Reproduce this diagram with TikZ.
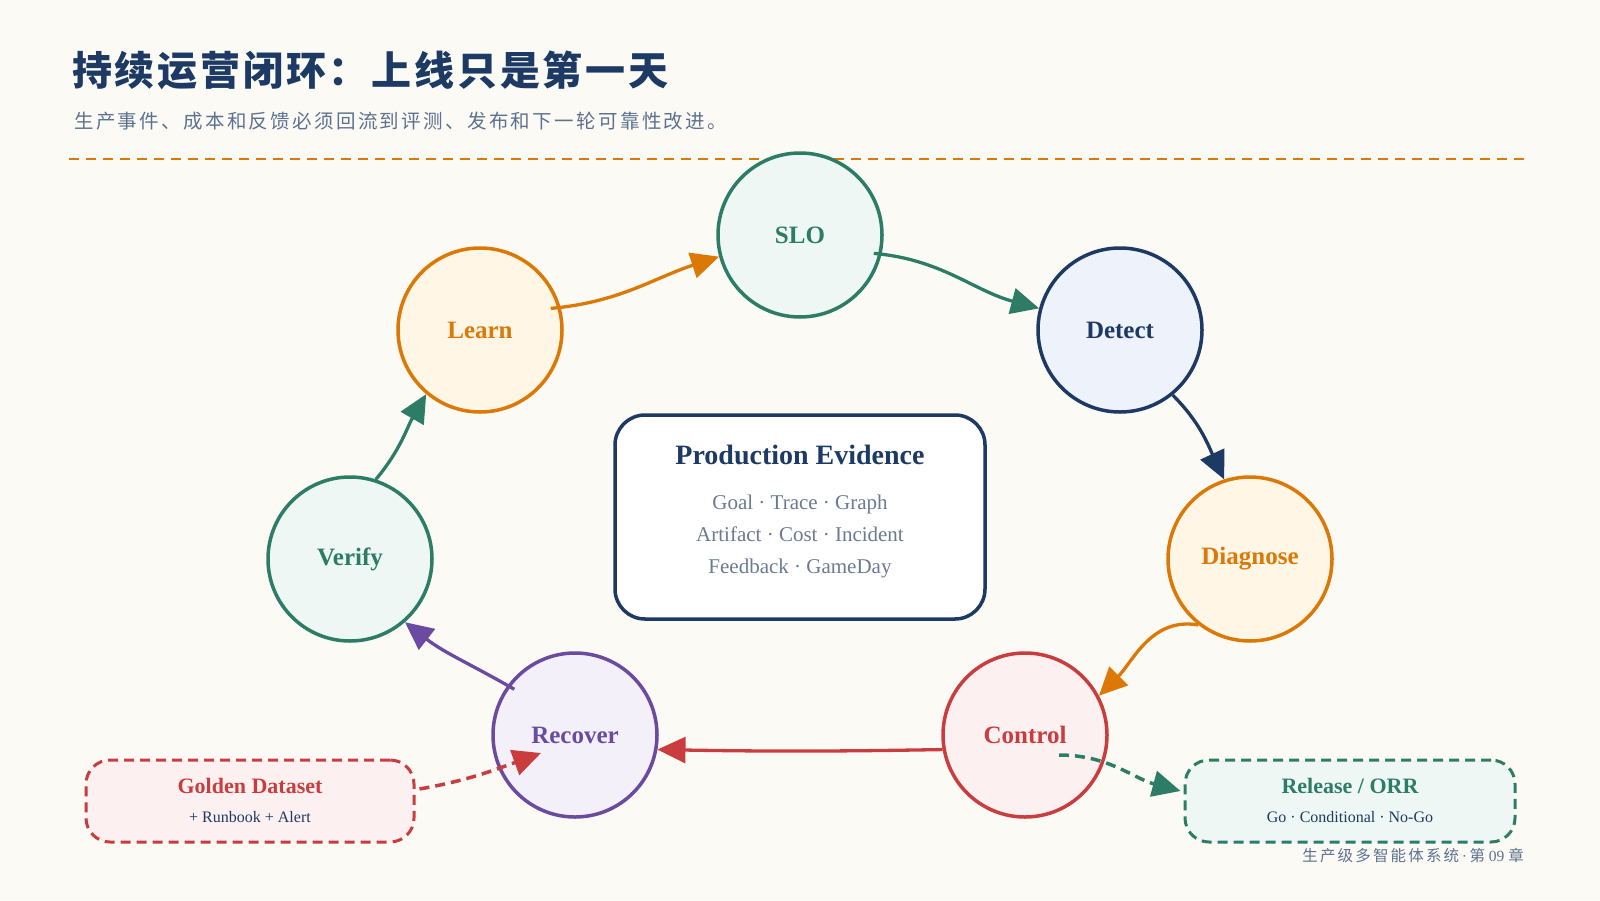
\documentclass[tikz,border=0pt]{standalone}
\usepackage{fontspec}
\setmainfont{Liberation Serif}
\newfontfamily\cjk{Noto Sans CJK SC}
\usetikzlibrary{arrows.meta,calc}
\definecolor{bg}{HTML}{FCFAF5}
\definecolor{cnavy}{HTML}{1C3A63}
\definecolor{fnavy}{HTML}{EEF3FB}
\definecolor{cgreen}{HTML}{2D7D66}
\definecolor{fgreen}{HTML}{EEF7F3}
\definecolor{corange}{HTML}{DB7806}
\definecolor{forange}{HTML}{FFF6E6}
\definecolor{cred}{HTML}{C93D3F}
\definecolor{fred}{HTML}{FDF0F0}
\definecolor{cpurple}{HTML}{6A4BA0}
\definecolor{fpurple}{HTML}{F3F0FA}
\definecolor{csub}{HTML}{5E7290}
\definecolor{cgray}{HTML}{6B7A92}
\tikzset{
  stage/.style={circle, minimum size=164pt, line width=3.5pt, inner sep=0pt,
    font=\bfseries\fontsize{25}{30}\selectfont},
  flow/.style={line width=3.3pt, -{Triangle[length=28pt,width=26pt]}},
  dflow/.style={line width=3.5pt, dash pattern=on 10pt off 6pt, -{Triangle[length=28pt,width=26pt]}},
  sidebox/.style={rounded corners=24pt, line width=3pt, dash pattern=on 10pt off 6pt,
    minimum width=328pt, minimum height=82pt},
  boxtitle/.style={font=\bfseries\fontsize{22}{26}\selectfont},
  boxsub/.style={font=\fontsize{16}{19}\selectfont, text=cnavy},
}
\begin{document}
\begin{tikzpicture}[x=1pt,y=1pt]
\fill[bg] (0,0) rectangle (1600,-900);
\useasboundingbox (0,0) rectangle (1600,-900);

% header
\node[anchor=west, inner sep=0pt, text=cnavy, font=\cjk\bfseries\fontsize{40}{48}\selectfont\addfontfeature{LetterSpace=7}] (title) at (72,-70) {持续运营闭环：上线只是第一天};
\node[anchor=west, inner sep=0pt, text=csub, font=\cjk\fontsize{19.5}{24}\selectfont\addfontfeature{LetterSpace=12}] (sub) at (74,-121) {生产事件、成本和反馈必须回流到评测、发布和下一轮可靠性改进。};
\coordinate (rl) at (69,-159);
\coordinate (rr) at (1531,-159);
\draw[corange, line width=2.5pt, dash pattern=on 10pt off 7pt] (rl) -- (rr);

% center box
\node[draw=cnavy, line width=3.5pt, fill=white, rounded corners=30pt, minimum width=370pt, minimum height=204pt] (ev) at (800,-517) {};
\node[text=cnavy, font=\bfseries\fontsize{28}{32}\selectfont] (evt) at (800,-455) {Production Evidence};
\node[text=cgray, align=center, font=\fontsize{21}{32}\selectfont] (evl) at (800,-536) {Goal · Trace · Graph\\Artifact · Cost · Incident\\Feedback · GameDay};

% stages
\node[stage, draw=cgreen, fill=fgreen, text=cgreen] (slo) at (800,-235) {SLO};
\node[stage, draw=cnavy, fill=fnavy, text=cnavy] (detect) at (1120,-330) {Detect};
\node[stage, draw=corange, fill=forange, text=corange] (diag) at (1250,-559) {Diagnose};
\node[stage, draw=cred, fill=fred, text=cred] (control) at (1025,-735) {Control};
\node[stage, draw=cpurple, fill=fpurple, text=cpurple] (recover) at (575,-735) {Recover};
\node[stage, draw=cgreen, fill=fgreen, text=cgreen] (verify) at (350,-559) {Verify};
\node[stage, draw=corange, fill=forange, text=corange] (learn) at (480,-330) {Learn};

% side boxes
\node[sidebox, draw=cred, fill=fred] (golden) at (250,-801) {};
\node[boxtitle, text=cred] (goldt) at (250,-786) {Golden Dataset};
\node[boxsub] (golds) at (250,-817) {+ Runbook + Alert};
\node[sidebox, draw=cgreen, fill=fgreen, minimum width=330pt] (release) at (1350,-801) {};
\node[boxtitle, text=cgreen] (relt) at (1350,-786) {Release / ORR};
\node[boxsub] (rels) at (1350,-817) {Go · Conditional · No-Go};

% footer
\node[anchor=east, inner sep=0pt, text=csub, font=\fontsize{15.5}{18}\selectfont] (foot) at (1524,-856) {{\cjk\addfontfeature{LetterSpace=14}生产级多智能体系统}\,·\,{\cjk 第} 09 {\cjk 章}};

% loop arrows
\draw[flow, corange] ($(learn.center)+(17:74)$) to[out=5, in=198] (slo.195);
\draw[flow, cgreen] ($(slo.center)+(-14:76)$) to[out=-5, in=165] (detect.165);
\draw[flow, cnavy] (detect.-51) to[out=-45, in=115] (diag.108);
\draw[flow, corange] (diag.232) to[out=170, in=45] (control.28);
\draw[flow, cred] (control.190) to[out=181, in=-1] (recover.-10);
\draw[flow, cpurple] ($(recover.center)+(143:76)$) to[out=150, in=-38] (verify.-49);
\draw[flow, cgreen] (verify.72) to[out=50, in=240] (learn.230);

% side arrows
\coordinate (gs) at ($(golden.east)+(4,12)$);
\coordinate (ge) at ($(recover.center)+(-34,-18)$);
\draw[dflow, cred] (gs) to[out=10, in=200] (ge);
\coordinate (cs) at ($(control.center)+(34,-20)$);
\coordinate (ce) at ($(release.west)+(-3,10)$);
\draw[dflow, cgreen] (cs) to[out=0, in=165] (ce);
\end{tikzpicture}
\end{document}
